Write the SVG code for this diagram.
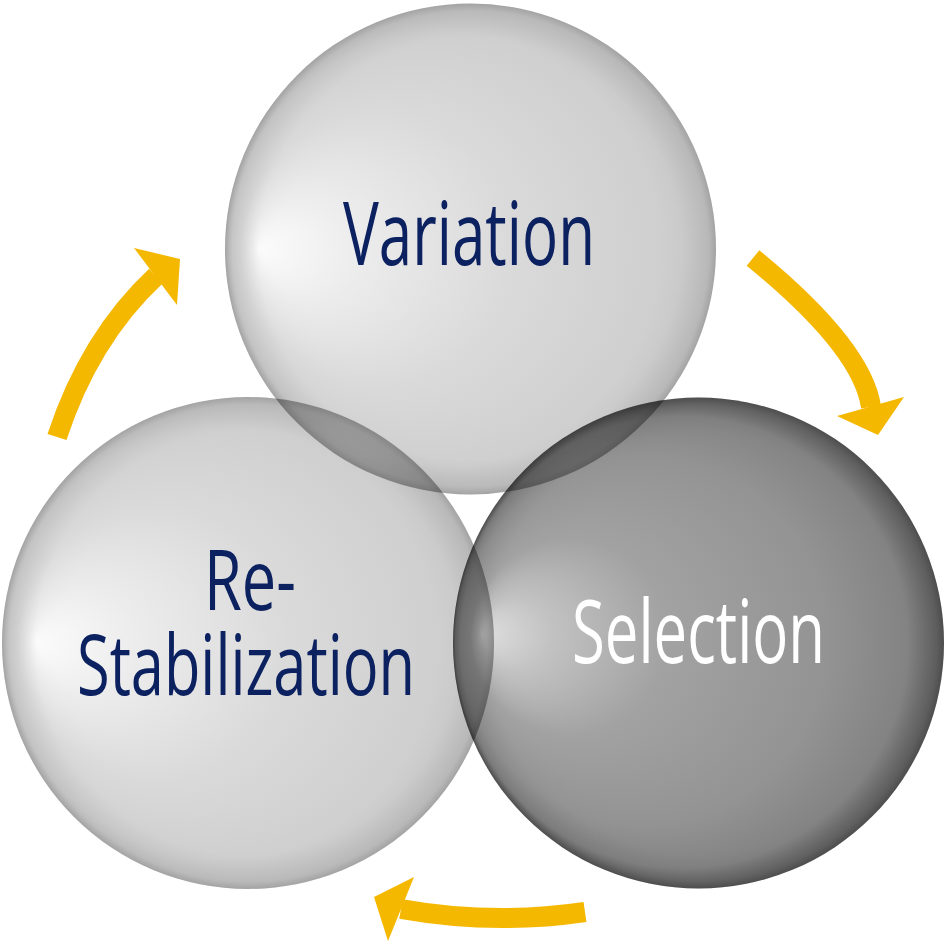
<svg xmlns="http://www.w3.org/2000/svg" width="947" height="943" viewBox="0 0 947 943">
  <defs>
    <radialGradient id="lightSphere" cx="0.5" cy="0.5" r="0.5" fx="0.07" fy="0.5">
      <stop offset="0" stop-color="#fbfbfb"/>
      <stop offset="0.22" stop-color="#ececec"/>
      <stop offset="0.55" stop-color="#dadada"/>
      <stop offset="0.88" stop-color="#cfcfcf"/>
      <stop offset="1" stop-color="#c2c2c2"/>
    </radialGradient>
    <radialGradient id="darkSphere" cx="0.5" cy="0.5" r="0.5" fx="0.06" fy="0.48">
      <stop offset="0" stop-color="#dedede"/>
      <stop offset="0.15" stop-color="#c2c2c2"/>
      <stop offset="0.4" stop-color="#a2a2a2"/>
      <stop offset="0.75" stop-color="#939393"/>
      <stop offset="0.92" stop-color="#838383"/>
      <stop offset="1" stop-color="#5c5c5c"/>
    </radialGradient>
    <radialGradient id="rim" cx="0.5" cy="0.5" r="0.5">
      <stop offset="0.86" stop-color="#000" stop-opacity="0"/>
      <stop offset="0.97" stop-color="#000" stop-opacity="0.06"/>
      <stop offset="1" stop-color="#000" stop-opacity="0.16"/>
    </radialGradient>
  </defs>
  <style>
    .sphere { mix-blend-mode: multiply; }
    .label { font-family: "Open Sans", "Noto Sans", "Liberation Sans", sans-serif; font-size: 88px; }
    .small { font-size: 84px; }
    .navy { fill: #0c2160; }
    .white { fill: #ffffff; }
    .shaft { fill: none; stroke: #f5b800; stroke-width: 20; stroke-linecap: butt; }
    .head { fill: #f5b800; }
  </style>
  <rect width="947" height="943" fill="#ffffff"/>

  <g id="node-variation" class="sphere">
    <circle cx="470.5" cy="249" r="245.5" fill="url(#lightSphere)"/>
    <circle cx="470.5" cy="249" r="245.5" fill="url(#rim)"/>
  </g>
  <g id="node-restabilization" class="sphere">
    <circle cx="248" cy="643" r="246" fill="url(#lightSphere)"/>
    <circle cx="248" cy="643" r="246" fill="url(#rim)"/>
  </g>
  <g id="node-selection" class="sphere">
    <circle cx="698.5" cy="643" r="245.5" fill="url(#darkSphere)"/>
    <circle cx="698.5" cy="643" r="245.5" fill="url(#rim)"/>
  </g>

  <g id="labels">
    <text class="label navy" x="343" y="265" textLength="252" lengthAdjust="spacingAndGlyphs">Variation</text>
    <text class="label small navy" x="204" y="610" textLength="92" lengthAdjust="spacingAndGlyphs">Re-</text>
    <text class="label small navy" x="77" y="695" textLength="338" lengthAdjust="spacingAndGlyphs">Stabilization</text>
    <text class="label white" x="572" y="663" textLength="253" lengthAdjust="spacingAndGlyphs">Selection</text>
  </g>

  <g id="connectors">
    <path class="shaft" d="M57,437 Q89.5,338 156,276"/>
    <polygon class="head" points="134,248 180,259 177,305"/>
    <path class="shaft" d="M753,258 Q862.5,347.5 871,407"/>
    <polygon class="head" points="837,416 904,397 878,435"/>
    <path class="shaft" d="M585,912 Q493,925.5 401,909"/>
    <polygon class="head" points="414,877 374,897 388,941"/>
  </g>
</svg>
